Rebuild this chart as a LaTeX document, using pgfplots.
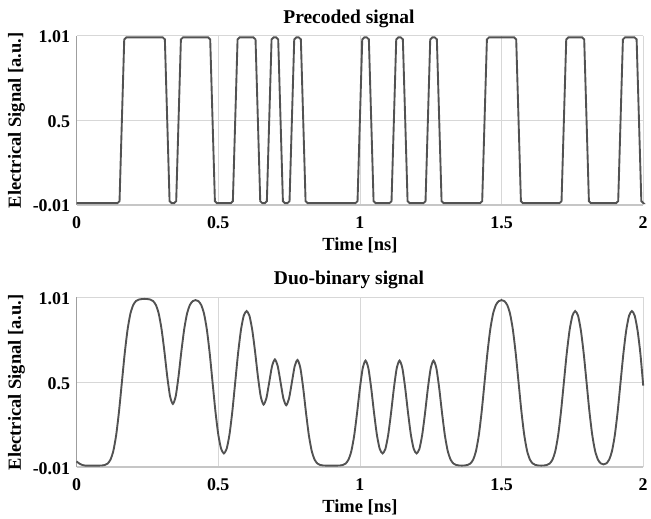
\documentclass[border=0pt]{standalone}
\usepackage{fontspec}
\setmainfont{Liberation Serif}
\usepackage{pgfplots}
\usepackage{pgfplotstable}
\pgfplotsset{compat=1.18}
\definecolor{sig}{RGB}{82,82,82}
\definecolor{gridc}{RGB}{215,215,215}

\pgfplotstableread{
t y
0.00 0.025
0.01 0.012
0.02 0.004
0.03 0.0
0.05 0.0
0.07 0.0
0.08 0.0
0.09 0.0008
0.10 0.0036
0.11 0.0125
0.12 0.0364
0.13 0.089
0.14 0.185
0.15 0.327
0.16 0.5
0.17 0.673
0.18 0.815
0.19 0.911
0.20 0.9636
0.21 0.9875
0.22 0.9964
0.23 0.9992
0.24 1.0
0.25 0.9992
0.26 0.9964
0.27 0.9875
0.28 0.9636
0.29 0.912
0.30 0.819
0.31 0.686
0.32 0.536
0.33 0.416
0.34 0.370
0.35 0.416
0.36 0.536
0.37 0.686
0.38 0.819
0.39 0.912
0.40 0.9636
0.41 0.9867
0.42 0.9928
0.43 0.9867
0.44 0.9636
0.45 0.911
0.46 0.815
0.47 0.673
0.48 0.5
0.49 0.328
0.50 0.189
0.51 0.102
0.52 0.073
0.53 0.102
0.54 0.189
0.55 0.328
0.56 0.5
0.57 0.672
0.58 0.811
0.59 0.899
0.60 0.927
0.61 0.900
0.62 0.815
0.63 0.685
0.64 0.536
0.65 0.415
0.66 0.366
0.67 0.404
0.68 0.500
0.69 0.597
0.70 0.637
0.71 0.597
0.72 0.500
0.73 0.403
0.74 0.362
0.75 0.403
0.76 0.500
0.77 0.597
0.78 0.634
0.79 0.585
0.80 0.464
0.81 0.315
0.82 0.181
0.83 0.088
0.84 0.0364
0.85 0.0125
0.86 0.0036
0.87 0.0008
0.88 0.0
0.90 0.0
0.92 0.0
0.93 0.0008
0.94 0.0036
0.95 0.0125
0.96 0.0364
0.97 0.088
0.98 0.181
0.99 0.315
1.00 0.464
1.01 0.584
1.02 0.630
1.03 0.584
1.04 0.464
1.05 0.316
1.06 0.185
1.07 0.100
1.08 0.073
1.09 0.100
1.10 0.185
1.11 0.316
1.12 0.464
1.13 0.584
1.14 0.630
1.15 0.584
1.16 0.464
1.17 0.316
1.18 0.185
1.19 0.100
1.20 0.073
1.21 0.100
1.22 0.185
1.23 0.316
1.24 0.464
1.25 0.584
1.26 0.630
1.27 0.584
1.28 0.464
1.29 0.315
1.30 0.181
1.31 0.088
1.32 0.0364
1.33 0.0125
1.34 0.0036
1.35 0.0008
1.36 0.0
1.37 0.0008
1.38 0.0036
1.39 0.0125
1.40 0.0364
1.41 0.089
1.42 0.185
1.43 0.327
1.44 0.5
1.45 0.673
1.46 0.815
1.47 0.911
1.48 0.9636
1.49 0.9867
1.50 0.9928
1.51 0.9867
1.52 0.9636
1.53 0.911
1.54 0.815
1.55 0.673
1.56 0.5
1.57 0.327
1.58 0.185
1.59 0.089
1.60 0.0364
1.61 0.0125
1.62 0.0036
1.63 0.0008
1.64 0.0
1.65 0.0008
1.66 0.0036
1.67 0.0125
1.68 0.0364
1.69 0.089
1.70 0.185
1.71 0.327
1.72 0.5
1.73 0.672
1.74 0.811
1.75 0.899
1.76 0.927
1.77 0.899
1.78 0.811
1.79 0.672
1.80 0.5
1.81 0.327
1.82 0.185
1.83 0.089
1.84 0.0364
1.85 0.0133
1.86 0.0072
1.87 0.0133
1.88 0.0364
1.89 0.089
1.90 0.185
1.91 0.327
1.92 0.5
1.93 0.672
1.94 0.811
1.95 0.899
1.96 0.927
1.97 0.899
1.98 0.811
1.99 0.672
2.00 0.48
}\duobinary

\pgfplotsset{myax/.style={
  scale only axis, width=570pt,
  xmin=0, xmax=2, ymin=-0.01, ymax=1.01,
  xtick={0,0.5,1,1.5,2}, xticklabels={0,0.5,1,1.5,2},
  ytick={-0.01,0.5,1.01}, yticklabels={-0.01,0.5,1.01},
  grid=major, major grid style={color=gridc, line width=0.6pt},
  axis lines*=left,
  x axis line style={color=gray!45, line width=1.6pt, -},
  y axis line style={color=gray!75, line width=0.8pt, -},
  major tick length=0pt,
  /pgf/number format/assume math mode=true,
  tick label style={font=\fontsize{18}{20}\selectfont\bfseries},
  yticklabel style={xshift=-3pt, yshift=-1pt},
  xticklabel style={yshift=-8pt},
  label style={font=\fontsize{18.6}{20}\selectfont\bfseries},
  title style={font=\fontsize{19.6}{22}\selectfont\bfseries, yshift=-1.5pt, xshift=-11pt},
  xlabel={Time [ns]}, ylabel={Electrical Signal [a.u.]},
  xlabel style={yshift=-2pt},
  ylabel style={yshift=1pt},
  clip=false,
}}

\begin{document}
\begin{tikzpicture}
\begin{axis}[myax, height=170pt, at={(0,0)}, title={Precoded signal}]
\addplot[sig, line width=1.9pt, rounded corners=2pt] coordinates {
(0,0) (0.1515,0) (0.1685,1) (0.3115,1) (0.3285,0) (0.3515,0) (0.3685,1) (0.4715,1) (0.4885,0)
(0.5515,0) (0.5685,1) (0.6315,1) (0.6485,0) (0.6715,0) (0.6885,1) (0.7115,1) (0.7285,0)
(0.7515,0) (0.7685,1) (0.7915,1) (0.8085,0) (0.9915,0) (1.0085,1) (1.0315,1) (1.0485,0)
(1.1115,0) (1.1285,1) (1.1515,1) (1.1685,0) (1.2315,0) (1.2485,1) (1.2715,1) (1.2885,0)
(1.4315,0) (1.4485,1) (1.5515,1) (1.5685,0) (1.7115,0) (1.7285,1) (1.7915,1) (1.8085,0)
(1.9115,0) (1.9285,1) (1.9765,1) (1.9935,0) (2,0)
};
\end{axis}
\begin{axis}[myax, height=171pt, at={(0,-264pt)}, title={Duo-binary signal}]
\addplot[sig, line width=1.9pt, smooth, tension=0.4] table[x=t, y=y] {\duobinary};
\end{axis}
\path (-77pt,206pt) rectangle (574pt,-313pt);
\end{tikzpicture}
\end{document}
